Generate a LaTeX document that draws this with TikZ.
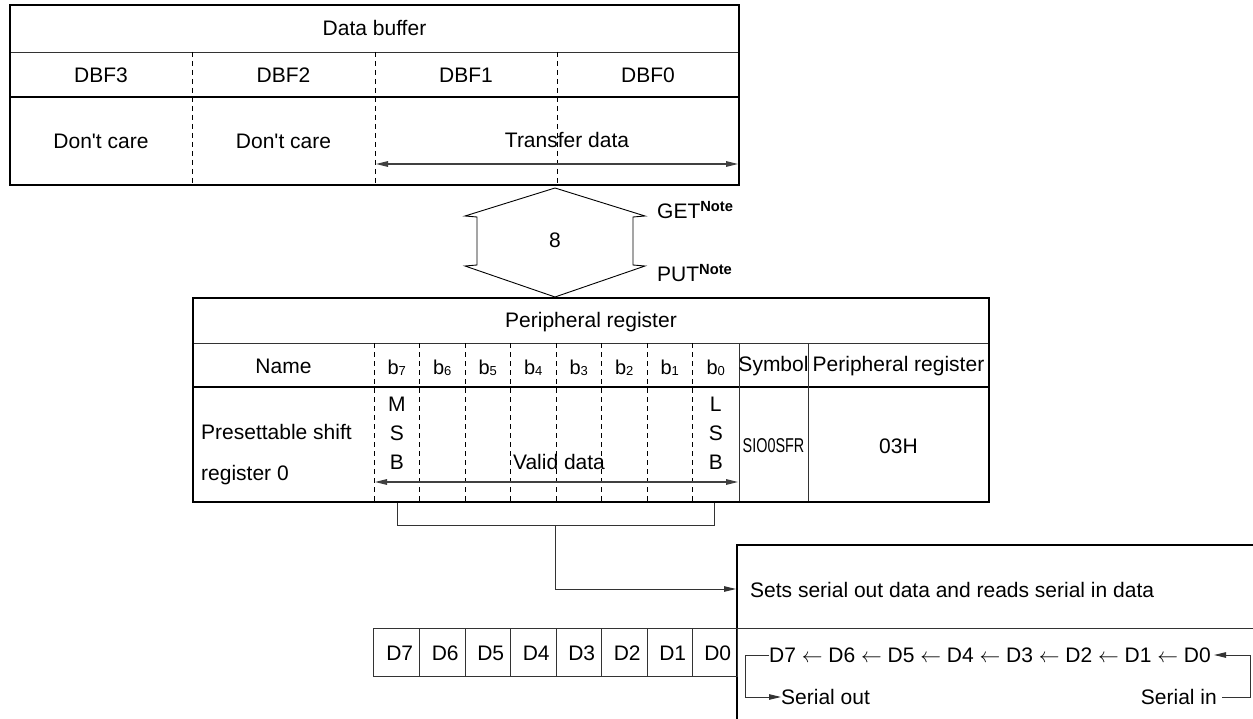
\documentclass[tikz,border=0pt]{standalone}
\usepackage{fontspec}
\setmainfont{Liberation Sans}[Ligatures=TeXOff]
\usetikzlibrary{arrows.meta}
\begin{document}
\begin{tikzpicture}[x=1pt,y=-1pt,
  thickln/.style={line width=2.4pt, line cap=rect},
  thinln/.style={line width=0.9pt, black!80},
  dashln/.style={line width=0.9pt, dash pattern=on 5pt off 4pt},
  arrln/.style={line width=1.3pt, black!75},
  tipend/.style={-{Triangle[length=12pt,width=5.5pt]}},
  tipboth/.style={{Triangle[length=12pt,width=5.5pt]}-{Triangle[length=12pt,width=5.5pt]}},
  lbl/.style={font=\fontsize{21}{25}\selectfont, inner sep=0pt},
  bitlbl/.style={font=\fontsize{20}{22}\selectfont, inner sep=0pt},
  notelbl/.style={font=\fontsize{21}{25}\selectfont, inner sep=0pt, anchor=west}
]
\useasboundingbox (0,0) rectangle (1253,719);

% ---------------- Data buffer table ----------------
\draw[thinln] (10,52) -- (739,52);
\draw[thickln] (10,97) -- (739,97);
\foreach \x in {192,375,557} \draw[dashln] (\x,52) -- (\x,185);
\draw[thickln] (10,5) rectangle (739,185);
\node[lbl] (db) at (374.5,28) {Data buffer};
\node[lbl] (dbf3) at (101,75) {DBF3};
\node[lbl] (dbf2) at (283.5,75) {DBF2};
\node[lbl] (dbf1) at (466,75) {DBF1};
\node[lbl] (dbf0) at (648,75) {DBF0};
\node[lbl] (dc3) at (101,141) {Don't care};
\node[lbl] (dc2) at (283.5,141) {Don't care};
\node[lbl] (tdata) at (567,140) {Transfer data};
\coordinate (ta) at (376,164);
\coordinate (tb) at (738,164);
\draw[arrln, tipboth] (ta) -- (tb);

% ---------------- hexagon ----------------
\draw[line width=0.9pt] (555,188) -- (465,216) -- (477,217) -- (477,265) -- (465,266)
  -- (555,297) -- (645,266) -- (633,265) -- (633,217) -- (645,216) -- cycle;
\node[lbl] (eight) at (555,240) {8};
\node[notelbl] (get) at (657,210) {GET\textsuperscript{\bfseries Note}};
\node[notelbl] (put) at (657,273) {PUT\textsuperscript{\bfseries Note}};

% ---------------- Peripheral register table ----------------
\draw[thinln] (193,343) -- (989,343);
\draw[thickln] (193,387) -- (989,387);
\foreach \x in {374,419.5,465,510.5,556,601.5,647,692.5}
  \draw[dashln] (\x,343) -- (\x,502);
\draw[thinln] (739,343) -- (739,502);
\draw[thinln] (808,343) -- (808,502);
\draw[thickln] (193,298) rectangle (989,502);
\node[lbl] (preg) at (591,322) {Peripheral register};
\node[lbl] (name) at (283.5,366) {Name};
\foreach \b/\x in {7/396.75,6/442.25,5/487.75,4/533.25,3/578.75,2/624.25,1/669.75,0/715.75}
  \node[bitlbl] (bit\b) at (\x,368) {b{\fontsize{13}{13}\selectfont\raisebox{-0.5pt}{\b}}};
\node[lbl] (symh) at (773.5,366) {Symbol};
\node[lbl] (pregh) at (898.5,366) {Peripheral register};
\node[lbl, anchor=west] (pres1) at (201,432) {Presettable shift};
\node[lbl, anchor=west] (pres2) at (201,475) {register 0};
\node[lbl] (m1) at (396.75,404) {M};
\node[lbl] (m2) at (396.75,433) {S};
\node[lbl] (m3) at (396.75,462) {B};
\node[lbl] (l1) at (715.75,404) {L};
\node[lbl] (l2) at (715.75,433) {S};
\node[lbl] (l3) at (715.75,462) {B};
\node[lbl] (vdata) at (559,462) {Valid data};
\coordinate (va) at (375,482);
\coordinate (vb) at (738,482);
\draw[arrln, tipboth] (va) -- (vb);
\node[font=\fontsize{20}{22}\selectfont, inner sep=0pt] (sym) at (773.5,446) {\scalebox{0.72}[1]{SIO0SFR}};
\node[lbl] (val) at (898.5,446) {03H};

% ---------------- bracket and arrow ----------------
\coordinate (bl) at (397,503);
\coordinate (br) at (714,503);
\coordinate (bm) at (555,525);
\coordinate (arrend) at (736,589);
\draw[thinln] (bl) -- (397,525) -- (714,525) -- (br);
\draw[thinln, tipend] (bm) |- (arrend);

% ---------------- right box ----------------
\draw[thinln] (373,628) -- (1253,628);
\draw[thickln] (737,722) -- (737,545) -- (1256,545);
\node[lbl, anchor=west] (sets) at (750,590) {Sets serial out data and reads serial in data};

% ---------------- D boxes ----------------
\draw[thinln] (373,628) rectangle (737,676);
\foreach \x in {419.5,465,510.5,556,601.5,647,692.5}
  \draw[thinln] (\x,628) -- (\x,676);
\foreach \d/\x in {7/399.75,6/445.25,5/490.75,4/536.25,3/581.75,2/627.25,1/672.75,0/717.75}
  \node[lbl] (d\d) at (\x,653) {D\d};

% ---------------- shift chain ----------------
\node[lbl, anchor=west] (chain) at (769,655)
  {D7\ $\leftarrow$\ D6\ $\leftarrow$\ D5\ $\leftarrow$\ D4\ $\leftarrow$\ D3\ $\leftarrow$\ D2\ $\leftarrow$\ D1\ $\leftarrow$\ D0};
\node[lbl, anchor=west] (sout) at (781,697) {Serial out};
\node[lbl, anchor=east] (sin) at (1217,697) {Serial in};
\draw[thinln, tipend] (chain.west) -- (745,655) -- (745,697) -- (sout.west);
\draw[thinln, tipend] ([xshift=5pt]sin.east) -- (1250,697) -- (1250,655) -- ([xshift=3pt]chain.east);
\end{tikzpicture}
\end{document}
